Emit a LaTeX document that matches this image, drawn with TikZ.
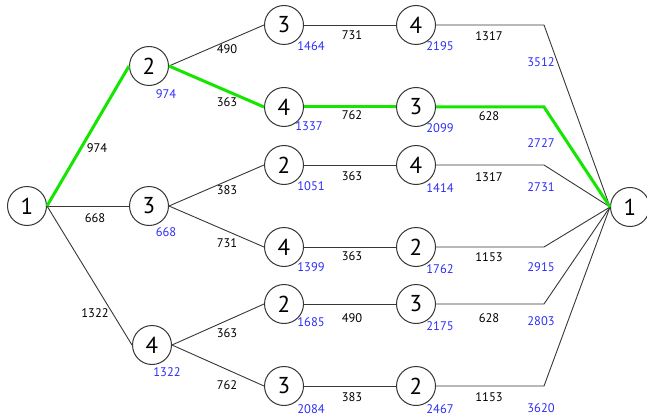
\documentclass[tikz,border=0pt]{standalone}
\usepackage{fontspec}
\setmainfont{PT Sans}
\definecolor{lblue}{RGB}{45,45,250}
\definecolor{lgreen}{RGB}{20,230,0}
\definecolor{lgray}{RGB}{55,55,55}
\begin{document}
\begin{tikzpicture}[x=1pt,y=-1pt,
  city/.style={circle,draw=lgray,line width=1pt,fill=white,minimum size=39pt,inner sep=0pt,font=\fontsize{23}{23}\selectfont},
  edge/.style={lgray,line width=0.9pt},
  best/.style={lgreen,line width=3pt},
  w/.style={font=\fontsize{12.5}{13}\selectfont,text=black,inner sep=0pt},
  c/.style={font=\fontsize{12.5}{13}\selectfont,text=lblue,inner sep=0pt}]
\useasboundingbox (0,0) rectangle (647,417);
% nodes
\node[city] (s) at (27,206) {1};
\node[city] (a2) at (149,66) {2};
\node[city] (a3) at (149,206) {3};
\node[city] (a4) at (152,345) {4};
\node[city] (b1) at (284,25) {3};
\node[city] (b2) at (284,107) {4};
\node[city] (b3) at (284,165) {2};
\node[city] (b4) at (284,247) {4};
\node[city] (b5) at (284,304) {2};
\node[city] (b6) at (284,386) {3};
\node[city] (d1) at (416,25) {4};
\node[city] (d2) at (416,107) {3};
\node[city] (d3) at (416,165) {4};
\node[city] (d4) at (416,247) {2};
\node[city] (d5) at (416,304) {3};
\node[city] (d6) at (416,386) {2};
\node[city] (t) at (630,207) {1};
\coordinate (k1) at (544,25);
\coordinate (k2) at (544,107);
\coordinate (k3) at (544,165);
\coordinate (k4) at (544,247);
\coordinate (k5) at (544,304);
\coordinate (k6) at (544,386);
% edges
\draw[edge] (s.east) -- (a3.west);
\draw[edge] (s.east) -- (a4.west);
\draw[edge] (a2.east) -- (b1.west);
\draw[edge] (a3.east) -- (b3.west);
\draw[edge] (a3.east) -- (b4.west);
\draw[edge] (a4.east) -- (b5.west);
\draw[edge] (a4.east) -- (b6.west);
\draw[edge] (b1.east) -- (d1.west);
\draw[edge] (b3.east) -- (d3.west);
\draw[edge] (b4.east) -- (d4.west);
\draw[edge] (b5.east) -- (d5.west);
\draw[edge] (b6.east) -- (d6.west);
\draw[edge] (d1.east) -- (k1) -- (t.west);
\draw[edge] (d3.east) -- (k3) -- (t.west);
\draw[edge] (d4.east) -- (k4) -- (t.west);
\draw[edge] (d5.east) -- (k5) -- (t.west);
\draw[edge] (d6.east) -- (k6) -- (t.west);
\draw[best] (s.east) -- (a2.west);
\draw[best] (a2.east) -- (b2.west);
\draw[best] (b2.east) -- (d2.west);
\draw[best] (d2.east) -- (k2) -- (t.west);
% weights
\node[w] (w1) at (97,148) {974};
\node[w] (w2) at (95,218) {668};
\node[w] (w3) at (95,313) {1322};
\node[w] (w4) at (227,49) {490};
\node[w] (w5) at (227,102) {363};
\node[w] (w6) at (227,190) {383};
\node[w] (w7) at (227,243) {731};
\node[w] (w8) at (227,333) {363};
\node[w] (w9) at (227,385) {762};
\node[w] (w10) at (352,35) {731};
\node[w] (w11) at (352,115) {762};
\node[w] (w12) at (352,176) {363};
\node[w] (w13) at (352,256) {363};
\node[w] (w14) at (352,318) {490};
\node[w] (w15) at (352,397) {383};
\node[w] (w16) at (489,36) {1317};
\node[w] (w17) at (489,116) {628};
\node[w] (w18) at (489,177) {1317};
\node[w] (w19) at (489,257) {1153};
\node[w] (w20) at (489,318) {628};
\node[w] (w21) at (489,397) {1153};
% cumulative
\node[c] (c1) at (166,94) {974};
\node[c] (c2) at (166,232) {668};
\node[c] (c3) at (167,372) {1322};
\node[c] (c4) at (311,46) {1464};
\node[c] (c5) at (309,126) {1337};
\node[c] (c6) at (311,186) {1051};
\node[c] (c7) at (311,267) {1399};
\node[c] (c8) at (311,322) {1685};
\node[c] (c9) at (311,409) {2084};
\node[c] (c10) at (440,46) {2195};
\node[c] (c11) at (440,128) {2099};
\node[c] (c12) at (440,188) {1414};
\node[c] (c13) at (440,269) {1762};
\node[c] (c14) at (440,326) {2175};
\node[c] (c15) at (440,409) {2467};
\node[c] (c16) at (541,62) {3512};
\node[c] (c17) at (541,143) {2727};
\node[c] (c18) at (541,187) {2731};
\node[c] (c19) at (541,267) {2915};
\node[c] (c20) at (541,321) {2803};
\node[c] (c21) at (541,408) {3620};
\end{tikzpicture}
\end{document}
